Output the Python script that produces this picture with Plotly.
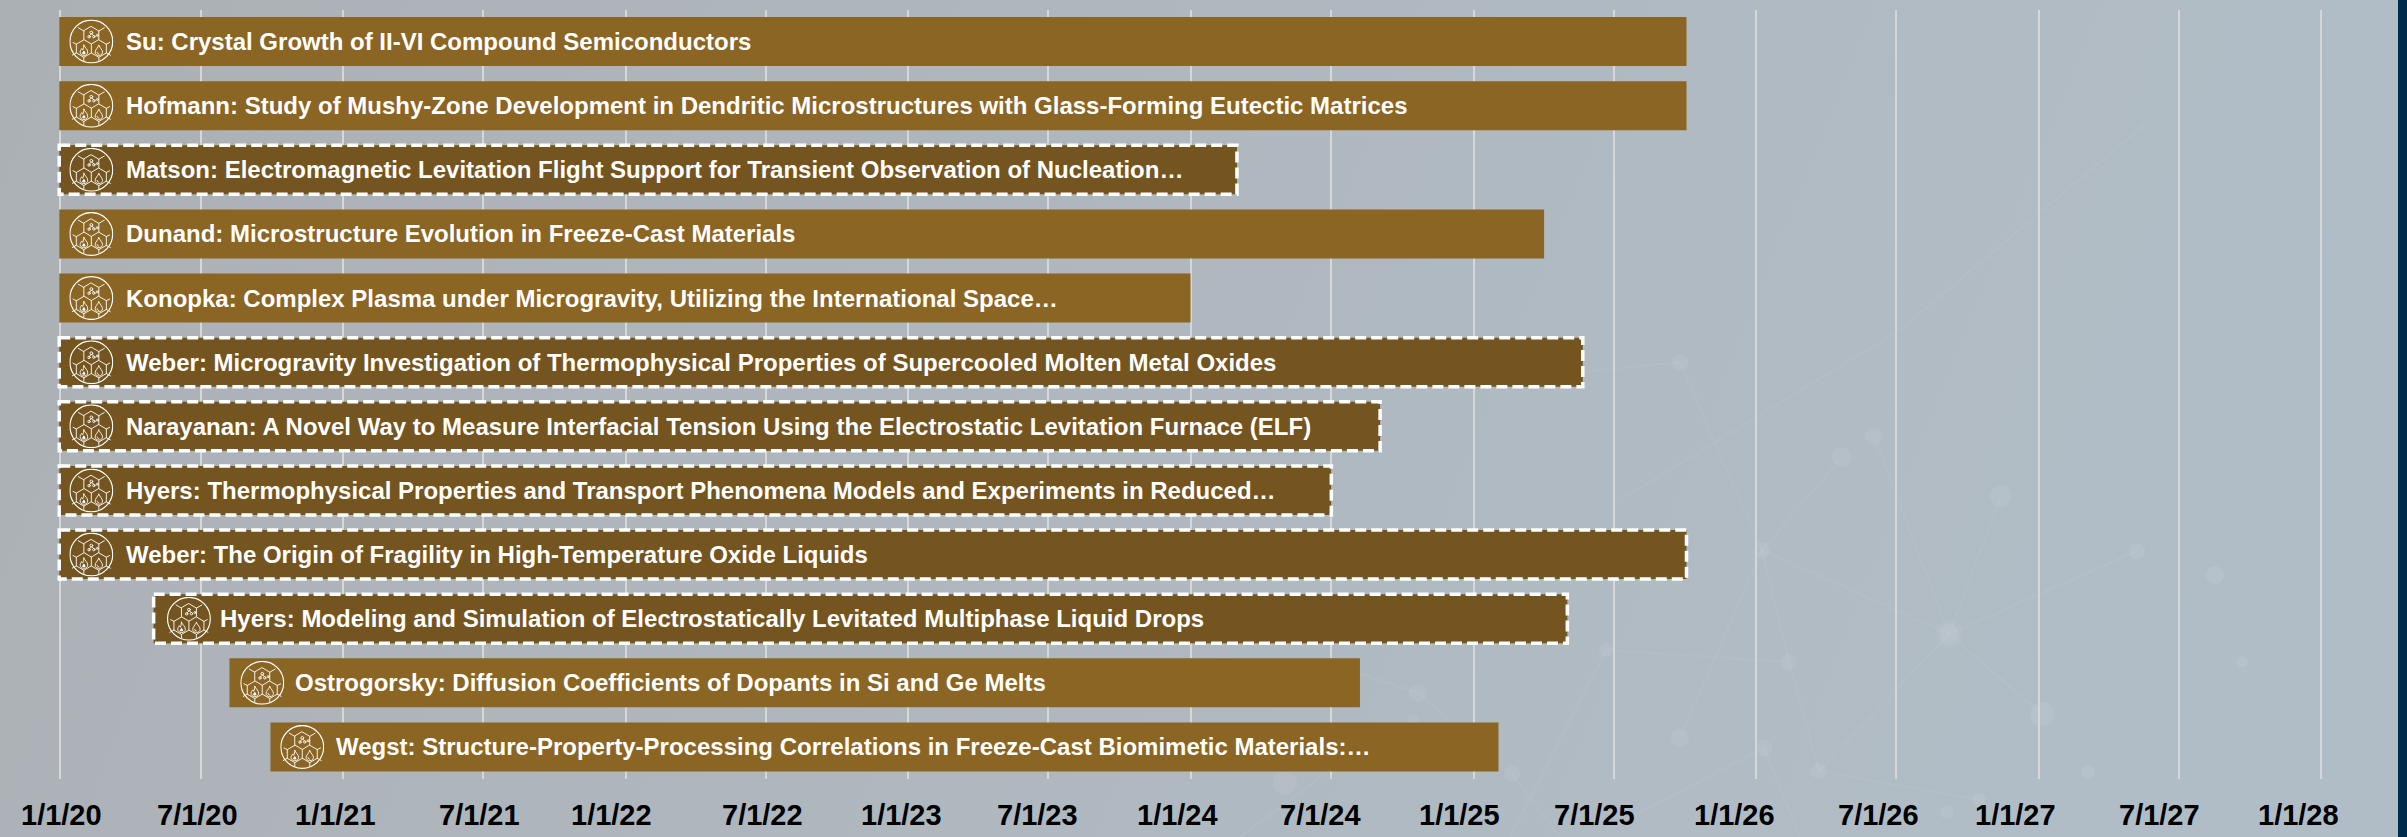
"""Project timeline: one bar per investigation, dashed border marks the flagged ones."""
import base64

import pandas as pd
import plotly.graph_objects as go

# Data
TITLES = [
    "Su: Crystal Growth of II-VI Compound Semiconductors",
    "Hofmann: Study of Mushy-Zone Development in Dendritic Microstructures with Glass-Forming Eutectic Matrices",
    "Matson: Electromagnetic Levitation Flight Support for Transient Observation of Nucleation…",
    "Dunand: Microstructure Evolution in Freeze-Cast Materials",
    "Konopka: Complex Plasma under Microgravity, Utilizing the International Space…",
    "Weber: Microgravity Investigation of Thermophysical Properties of Supercooled Molten Metal Oxides",
    "Narayanan: A Novel Way to Measure Interfacial Tension Using the Electrostatic Levitation Furnace (ELF)",
    "Hyers: Thermophysical Properties and Transport Phenomena Models and Experiments in Reduced…",
    "Weber: The Origin of Fragility in High-Temperature Oxide Liquids",
    "Hyers: Modeling and Simulation of Electrostatically Levitated Multiphase Liquid Drops",
    "Ostrogorsky: Diffusion Coefficients of Dopants in Si and Ge Melts",
    "Wegst: Structure-Property-Processing Correlations in Freeze-Cast Biomimetic Materials:…",
]
STARTS = [
    "2019-12-31", "2019-12-31", "2019-12-31", "2019-12-31", "2019-12-31", "2019-12-31",
    "2019-12-31", "2019-12-31", "2019-12-31", "2020-05-01", "2020-08-07", "2020-09-29",
]
ENDS = [
    "2025-10-03", "2025-10-03", "2024-03-01", "2025-04-02", "2024-01-01", "2025-05-22",
    "2024-09-02", "2024-07-01", "2025-10-03", "2025-05-02", "2024-08-07", "2025-02-02",
]
FLAGGED = [False, False, True, False, False, True, True, True, True, True, False, False]
TICK_LABELS = [
    "1/1/20", "7/1/20", "1/1/21", "7/1/21", "1/1/22", "7/1/22", "1/1/23", "7/1/23", "1/1/24",
    "7/1/24", "1/1/25", "7/1/25", "1/1/26", "7/1/26", "1/1/27", "7/1/27", "1/1/28",
]

# Layout of the page (the date labels sit off their gridlines in the original)
W, H = 2407, 837
LABEL_SHIFT = [1, -3, -8, -3.5, -14, -3.5, -7, -11, -13, -11, -14, -19, -22, -18, -23, -19, -23]
ICON_OFFSET = [32.1, 32.1, 32.1, 32.1, 32.1, 32.1, 32.1, 32.1, 32.1, 35.3, 32.8, 31.8]
TEXT_OFFSET = [65.2, 65.2, 65.2, 65.2, 65.2, 65.2, 65.2, 65.2, 65.2, 64, 64, 64]
GRID_TOP, GRID_BOTTOM = 9.5, 779
PX_PER_DAY = (2321 - 60) / 2922
BAR_FILL, FLAG_FILL = "#8b6524", "#74541f"

starts = pd.to_datetime(STARTS)
ends = pd.to_datetime(ENDS)
tick_dates = pd.to_datetime(TICK_LABELS, format="%m/%d/%y")
x_range = [
    tick_dates[0] - pd.Timedelta(days=60 / PX_PER_DAY),
    tick_dates[-1] + pd.Timedelta(days=(W - 2321) / PX_PER_DAY),
]
row_px = (GRID_BOTTOM - GRID_TOP) / len(TITLES)
bar_height = 49 / row_px


def data_uri(svg):
    return "data:image/svg+xml;base64," + base64.b64encode(svg.encode()).decode()


# Round badge with three hexagons, a flame and a droplet
ICON = """<svg xmlns="http://www.w3.org/2000/svg" width="88" height="88" viewBox="-22 -22 44 44">
<g fill="none" stroke="#fff" stroke-width=".9" stroke-linecap="round" stroke-linejoin="round">
<circle r="21.4" stroke-width="1.2"/>
<path d="M0 -15 L7.5 -10.6 L7.5 -2 L0 2.5 L-7.5 -2 L-7.5 -10.6 Z"/>
<path d="M-7.5 -1.7 L-15 2.65 L-15 11.35 L-7.5 15.7 L0 11.35 L0 2.5"/>
<path d="M7.5 -1.7 L15 2.65 L15 11.35 L7.5 15.7 L0 11.35"/>
<path d="M7.5 -10.6 L13 -13.8 M-7.5 -10.6 L-13 -13.8 M15 11.35 L19 13.6 M-15 11.35 L-19 13.6 M-7.5 15.7 L-7.5 19 M7.5 15.7 L7.5 19 M-15 2.65 L-18.3 1 M15 2.65 L18.3 1"/>
<circle cx="0" cy="-9" r="1.4"/>
<circle cx="-2.3" cy="-4.8" r="1.2"/>
<circle cx="2.5" cy="-5" r="1.2"/>
<circle cx="6" cy="-6.2" r="1"/>
<path d="M0 -7.6 L-2 -5.8 M0.6 -7.8 L2.3 -6"/>
<path d="M-7.5 3.5 C-6.5 6.2 -3.6 7.5 -3.6 10.5 C-3.6 12.6 -5.4 13.8 -7.5 13.8 C-9.6 13.8 -11.2 12.5 -11.2 10.5 C-11.2 9 -10.2 8.2 -9.7 7 C-9.2 7.9 -8.9 8.2 -8.5 8.4 C-8 7 -7.5 5.4 -7.5 3.5 Z"/>
<path d="M-7.5 9 C-6.5 10.2 -5.8 11 -5.8 11.9 C-5.8 12.8 -9.2 12.8 -9.2 11.9 C-9.2 11 -8 10.2 -7.5 9 Z" fill="#fff" stroke="none"/>
<path d="M7.5 3.8 C8.5 6.2 11.2 8.4 11.2 10.5 C11.2 12.5 9.6 13.8 7.5 13.8 C5.4 13.8 3.8 12.5 3.8 10.5 C3.8 8.4 6.5 6.2 7.5 3.8 Z"/>
<path d="M5.8 10.6 C5.8 11.8 6.6 12.3 7.5 12.3"/>
</g></svg>"""

# Faint network of nodes and links behind the chart
NODES = [
    (1680, 362, 8), (1842, 457, 10), (1874, 436, 9), (2001, 496, 11), (2137, 551, 8), (2215, 575, 9),
    (1762, 550, 8), (1949, 634, 10), (1789, 662, 8), (2042, 714, 12), (1680, 738, 9), (1764, 748, 8),
    (1819, 771, 8), (2088, 772, 7), (1979, 800, 7), (1947, 812, 7), (2242, 662, 6), (1606, 650, 7),
    (1418, 693, 9), (1285, 783, 12), (1512, 774, 8), (1413, 720, 6),
]
LINKS = [
    (1583, 372, 1680, 362), (1680, 362, 1762, 550), (1762, 550, 1789, 662), (1789, 662, 1819, 771),
    (1842, 457, 1762, 550), (1874, 436, 1949, 634), (2001, 496, 1949, 634), (2137, 551, 1949, 634),
    (1762, 550, 1949, 634), (2042, 714, 1949, 634), (1949, 634, 1819, 771), (1762, 550, 1680, 738),
    (1606, 650, 1789, 662), (1819, 771, 1979, 800), (1764, 748, 1606, 830), (1764, 748, 1800, 837),
    (1350, 670, 1418, 693), (1418, 693, 1450, 720), (1607, 649, 1510, 837), (1512, 774, 1560, 837),
    (1900, 330, 2150, 120), (1620, 500, 1900, 330), (1240, 837, 1330, 770),
]
node_svg = "".join(f'<circle cx="{x}" cy="{y}" r="{r}" fill="#fff" opacity=".07"/>' for x, y, r in NODES)
link_svg = "".join(
    f'<line x1="{a}" y1="{b}" x2="{c}" y2="{d}" stroke="#fff" stroke-width="2" opacity=".04"/>'
    for a, b, c, d in LINKS
)
BACKGROUND = f"""<svg xmlns="http://www.w3.org/2000/svg" width="{W}" height="{H}" viewBox="0 0 {W} {H}">
<defs><linearGradient id="g" gradientUnits="userSpaceOnUse" x1="0" y1="0" x2="2100" y2="837">
<stop offset="0" stop-color="#abb0b4"/><stop offset=".45" stop-color="#afb7be"/><stop offset="1" stop-color="#b1bdc6"/>
</linearGradient></defs>
<rect width="{W}" height="{H}" fill="url(#g)"/>{link_svg}{node_svg}
<circle cx="1949" cy="634" r="14" fill="#fff" opacity=".04"/>
<rect x="2398" width="9" height="{H}" fill="#012b4b"/></svg>"""

fig = go.Figure(go.Bar(
    y=TITLES,
    base=starts,
    x=[(e - s).total_seconds() * 1000 for s, e in zip(starts, ends)],
    orientation="h",
    width=bar_height,
    marker=dict(color=[FLAG_FILL if f else BAR_FILL for f in FLAGGED], line=dict(width=0)),
    hoverinfo="y",
    cliponaxis=False,
))

# Dashed border of the flagged bars
for i, flagged in enumerate(FLAGGED):
    if flagged:
        fig.add_shape(
            type="rect", xref="x", yref="y",
            x0=starts[i], x1=ends[i], y0=i - bar_height / 2, y1=i + bar_height / 2,
            line=dict(color="#ffffff", width=3.5, dash="11px,5px"),
        )

# Badge and title of each bar
images = [dict(
    source=data_uri(BACKGROUND), xref="paper", yref="paper", x=0, y=1, sizex=1, sizey=1,
    xanchor="left", yanchor="top", sizing="stretch", layer="below",
)]
annotations = []
for i, title in enumerate(TITLES):
    images.append(dict(
        source=data_uri(ICON), xref="x", yref="y",
        x=starts[i] + pd.Timedelta(days=ICON_OFFSET[i] / PX_PER_DAY), y=title,
        sizex=44 / PX_PER_DAY * 86400000, sizey=44 / row_px,
        xanchor="center", yanchor="middle", sizing="contain", layer="above",
    ))
    annotations.append(dict(
        x=starts[i], y=title, xref="x", yref="y", text=title, showarrow=False,
        xanchor="left", yanchor="middle", xshift=TEXT_OFFSET[i], yshift=0,
        font=dict(family="Liberation Sans", size=24, color="#ffffff", weight=700),
    ))

# Date labels
for date, label, shift in zip(tick_dates, TICK_LABELS, LABEL_SHIFT):
    annotations.append(dict(
        x=date, y=1 - 815 / H, xref="x", yref="paper", text=label, showarrow=False,
        xanchor="center", yanchor="middle", xshift=shift,
        font=dict(family="Liberation Sans", size=29, color="#000000", weight=700),
    ))

fig.update_layout(
    width=W, height=H,
    margin=dict(l=0, r=0, t=0, b=0),
    paper_bgcolor="#b0bac2",
    plot_bgcolor="rgba(0,0,0,0)",
    showlegend=False,
    images=images,
    annotations=annotations,
    xaxis=dict(
        type="date", range=x_range, tickvals=tick_dates, showticklabels=False, ticks="",
        showgrid=True, gridcolor="#d5d7d9", gridwidth=2, zeroline=False, showline=False,
    ),
    yaxis=dict(
        type="category", categoryorder="array", categoryarray=TITLES, autorange=False,
        range=[len(TITLES) - 0.5, -0.5], domain=[1 - GRID_BOTTOM / H, 1 - GRID_TOP / H],
        showticklabels=False, ticks="", showgrid=False, zeroline=False, showline=False,
    ),
)

fig.write_html(
    "out.html",
    config={"displayModeBar": False},
    post_script="document.body.style.margin='0';document.body.style.overflow='hidden';",
)
